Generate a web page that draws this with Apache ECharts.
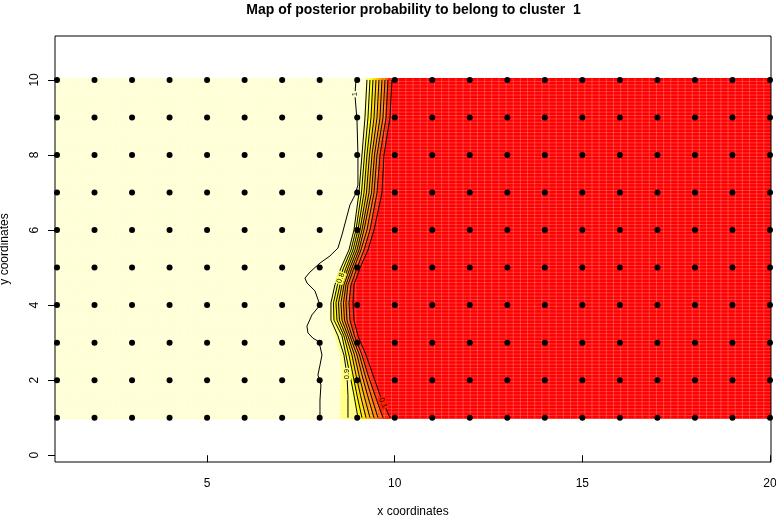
<!DOCTYPE html>
<html><head><meta charset="utf-8">
<script src="https://cdn.jsdelivr.net/npm/echarts@6.0.0/dist/echarts.min.js"></script>
<style>html,body{margin:0;padding:0;background:#fff}#c{width:776px;height:518px}</style>
</head><body><div id="c"></div>
<script>
// ---------- text ----------
const chartTitle = 'Map of posterior probability to belong to cluster  1';
const xAxisTitle = 'x coordinates';
const yAxisTitle = 'y coordinates';
// ---------- axes ----------
const xTicks = [5, 10, 15, 20];
const yTicks = [0, 2, 4, 6, 8, 10];
const xRange = [0.947, 20.027];
const yRange = [-0.18, 11.17];
// ---------- image (posterior probability map) ----------
const heatX = [0.947, 20.027];
const heatY = [0.97, 10.05];
const imageCells = [100, 100];
// heat.colors(12)
const heatColors = ['#FF0000','#FF2000','#FF4000','#FF6000','#FF8000','#FF9F00','#FFBF00','#FFDF00','#FFFF00','#FFFF2A','#FFFF80','#FFFFD5'];
// ---------- observation sites ----------
const pointX = [1,2,3,4,5,6,7,8,9,10,11,12,13,14,15,16,17,18,19,20];
const pointY = [1,2,3,4,5,6,7,8,9,10];
// ---------- contour lines ----------
const contourY   = [10.00, 8.99, 8.00, 6.99, 6.00, 5.47, 4.99, 4.54, 4.06, 3.60, 3.18, 2.67, 2.14, 1.60, 1.00];
const contourX_09 = [9.260, 9.207, 9.127, 9.047, 8.914, 8.780, 8.567, 8.407, 8.301, 8.301, 8.487, 8.647, 8.727, 8.754, 8.754];
const contourX_08 = [9.340, 9.287, 9.194, 9.114, 8.967, 8.834, 8.634, 8.474, 8.368, 8.381, 8.594, 8.700, 8.807, 8.914, 9.020];
const contourX_07 = [9.420, 9.367, 9.260, 9.180, 9.020, 8.887, 8.700, 8.541, 8.434, 8.461, 8.647, 8.780, 8.887, 8.994, 9.127];
const contourX_06 = [9.500, 9.447, 9.327, 9.247, 9.074, 8.940, 8.754, 8.594, 8.501, 8.527, 8.700, 8.860, 8.967, 9.087, 9.234];
const contourX_05 = [9.580, 9.527, 9.393, 9.314, 9.127, 8.994, 8.807, 8.647, 8.567, 8.594, 8.754, 8.927, 9.047, 9.180, 9.340];
const contourX_04 = [9.660, 9.607, 9.460, 9.380, 9.180, 9.047, 8.860, 8.700, 8.634, 8.661, 8.807, 8.994, 9.127, 9.274, 9.447];
const contourX_03 = [9.740, 9.686, 9.527, 9.447, 9.260, 9.100, 8.914, 8.754, 8.700, 8.727, 8.860, 9.060, 9.207, 9.367, 9.553];
const contourX_02 = [9.820, 9.767, 9.607, 9.527, 9.340, 9.180, 8.994, 8.834, 8.780, 8.807, 8.927, 9.127, 9.287, 9.473, 9.686];
const contourX_01 = [9.926, 9.873, 9.713, 9.660, 9.447, 9.287, 9.074, 8.914, 8.887, 8.914, 9.020, 9.234, 9.420, 9.607, 9.873];
// edge of the palest colour class (p > 11/12)
const paleEdgeX   = [9.234, 9.180, 9.100, 9.020, 8.887, 8.754, 8.541, 8.381, 8.274, 8.261, 8.407, 8.541, 8.567, 8.541, 8.541];
// level 1 contour
const contour1X = [8.967, 8.940, 8.994, 9.020, 9.020, 8.940, 8.807, 8.700, 8.594, 8.487, 8.274, 8.008, 7.741, 7.608, 7.661, 7.874, 8.008, 7.795, 7.661, 7.688, 7.821, 7.954, 8.008, 8.061, 8.008, 7.954, 8.034, 8.008, 8.008, 8.008];
const contour1Y = [10.00, 9.60, 8.93, 8.00, 7.20, 6.93, 6.67, 6.27, 5.87, 5.52, 5.31, 5.12, 4.88, 4.72, 4.59, 4.38, 4.00, 3.74, 3.44, 3.26, 3.12, 3.04, 2.91, 2.67, 2.40, 2.14, 1.87, 1.47, 1.20, 1.00];
// contour labels
const labelText  = ['1', '0.8', '0.9', '0.1'];
const labelX     = [8.94, 8.56, 8.727, 9.686];
const labelY     = [9.62, 4.72, 2.164, 1.391];
const labelAngle = [90, 69, 90, -66];
const labelBg    = ['#FFFFD5', '#FFFF55', '#FFFF80', '#FF2000'];

const FONT = 'Liberation Sans, Arial, Helvetica, sans-serif';

// ---------- build ----------
const bandLevels = [
  {xs: contourX_01, color: heatColors[1]},
  {xs: contourX_02, color: heatColors[3]},
  {xs: contourX_03, color: heatColors[4]},
  {xs: contourX_04, color: heatColors[5]},
  {xs: contourX_05, color: heatColors[6]},
  {xs: contourX_06, color: heatColors[7]},
  {xs: contourX_07, color: heatColors[8]},
  {xs: contourX_08, color: heatColors[10]},
  {xs: contourX_09, color: heatColors[10]},
  {xs: paleEdgeX,   color: heatColors[11]}
];
function leftRegion(xs, ys) {
  const pts = [[heatX[0], heatY[1]], [xs[0], heatY[1]]];
  for (let i = 0; i < xs.length; i++) pts.push([xs[i], ys[i]]);
  pts.push([xs[xs.length - 1], heatY[0]]);
  pts.push([heatX[0], heatY[0]]);
  return pts;
}
const fillLayers = [{pts: [[heatX[0], heatY[0]], [heatX[1], heatY[0]], [heatX[1], heatY[1]], [heatX[0], heatY[1]]], color: heatColors[0]}]
  .concat(bandLevels.map(b => ({pts: leftRegion(b.xs, contourY), color: b.color})));

const contourSets = [contourX_09, contourX_08, contourX_07, contourX_06, contourX_05, contourX_04, contourX_03, contourX_02, contourX_01]
  .map(xs => xs.map((x, i) => [x, contourY[i]]));
contourSets.push(contour1X.map((x, i) => [x, contour1Y[i]]));

const points = [];
pointY.forEach(y => pointX.forEach(x => points.push([x, y])));

const series = [];
series.push({
  type: 'custom', coordinateSystem: 'cartesian2d', silent: true, z: 1, clip: true,
  data: fillLayers.map((l, i) => [i]),
  renderItem: (params, api) => {
    const layer = fillLayers[params.dataIndex];
    return {type: 'polygon', shape: {points: layer.pts.map(p => api.coord(p))}, style: {fill: layer.color, stroke: null}};
  }
});
series.push({
  type: 'custom', coordinateSystem: 'cartesian2d', silent: true, z: 2, clip: true,
  data: [[0]],
  renderItem: (params, api) => {
    const children = [];
    const a = api.coord([heatX[0], heatY[0]]), b = api.coord([heatX[1], heatY[1]]);
    for (let k = 1; k < imageCells[0]; k++) {
      const px = api.coord([heatX[0] + k * (heatX[1] - heatX[0]) / imageCells[0], heatY[0]])[0];
      children.push({type: 'line', shape: {x1: px, y1: a[1], x2: px, y2: b[1]}, style: {stroke: 'rgba(255,255,255,0.22)', lineWidth: 1}});
    }
    for (let k = 1; k < imageCells[1]; k++) {
      const py = api.coord([heatX[0], heatY[0] + k * (heatY[1] - heatY[0]) / imageCells[1]])[1];
      children.push({type: 'line', shape: {x1: a[0], y1: py, x2: b[0], y2: py}, style: {stroke: 'rgba(255,255,255,0.22)', lineWidth: 1}});
    }
    return {type: 'group', children};
  }
});
contourSets.forEach(d => series.push({
  type: 'line', data: d, showSymbol: false, symbol: 'none', z: 3, silent: true,
  lineStyle: {color: '#000', width: 1}, animation: false
}));
series.push({
  type: 'custom', coordinateSystem: 'cartesian2d', silent: true, z: 4,
  data: labelText.map((t, i) => [labelX[i], labelY[i]]),
  renderItem: (params, api) => {
    const i = params.dataIndex;
    const p = api.coord([labelX[i], labelY[i]]);
    return {type: 'text', x: p[0], y: p[1], rotation: labelAngle[i] * Math.PI / 180,
      style: {text: labelText[i], fill: '#000', font: '7.5px ' + FONT, align: 'center', verticalAlign: 'middle',
        backgroundColor: labelBg[i], padding: [0, 1]}};
  }
});
series.push({
  type: 'scatter', data: points, symbol: 'circle', symbolSize: 6, z: 5, silent: true,
  itemStyle: {color: '#000', opacity: 1}
});
series.push({
  type: 'custom', coordinateSystem: 'cartesian2d', silent: true, z: 6,
  data: [[10, 5]],
  renderItem: (params) => {
    const c = params.coordSys;
    return {type: 'rect', shape: {x: c.x, y: c.y, width: c.width, height: c.height}, style: {fill: null, stroke: '#000', lineWidth: 1}};
  }
});

const chart = echarts.init(document.getElementById('c'), null, {renderer: 'canvas'});
chart.setOption({
  animation: false,
  backgroundColor: '#fff',
  textStyle: {fontFamily: FONT},
  grid: {left: 55, right: 5, top: 36, bottom: 56, containLabel: false, outerBoundsMode: 'none'},
  graphic: [{type: 'text', x: 413.5, y: 10, style: {text: chartTitle, font: 'bold 14px ' + FONT, fill: '#000', align: 'center', verticalAlign: 'middle'}}],
  xAxis: {
    type: 'value', min: xRange[0], max: xRange[1],
    axisLine: {show: false}, splitLine: {show: false},
    axisTick: {show: true, length: 7, customValues: xTicks, lineStyle: {color: '#000'}},
    axisLabel: {customValues: xTicks, margin: 16, fontSize: 12, color: '#000', fontFamily: FONT},
    name: xAxisTitle, nameLocation: 'middle', nameGap: 44,
    nameTextStyle: {fontSize: 12, color: '#000', fontFamily: FONT}
  },
  yAxis: {
    type: 'value', min: yRange[0], max: yRange[1],
    axisLine: {show: false}, splitLine: {show: false},
    axisTick: {show: true, length: 7, customValues: yTicks, lineStyle: {color: '#000'}},
    axisLabel: {customValues: yTicks, margin: 14, rotate: 90, fontSize: 12, color: '#000', fontFamily: FONT},
    name: yAxisTitle, nameLocation: 'middle', nameGap: 44,
    nameTextStyle: {fontSize: 12, color: '#000', fontFamily: FONT}
  },
  series
});
</script></body></html>
